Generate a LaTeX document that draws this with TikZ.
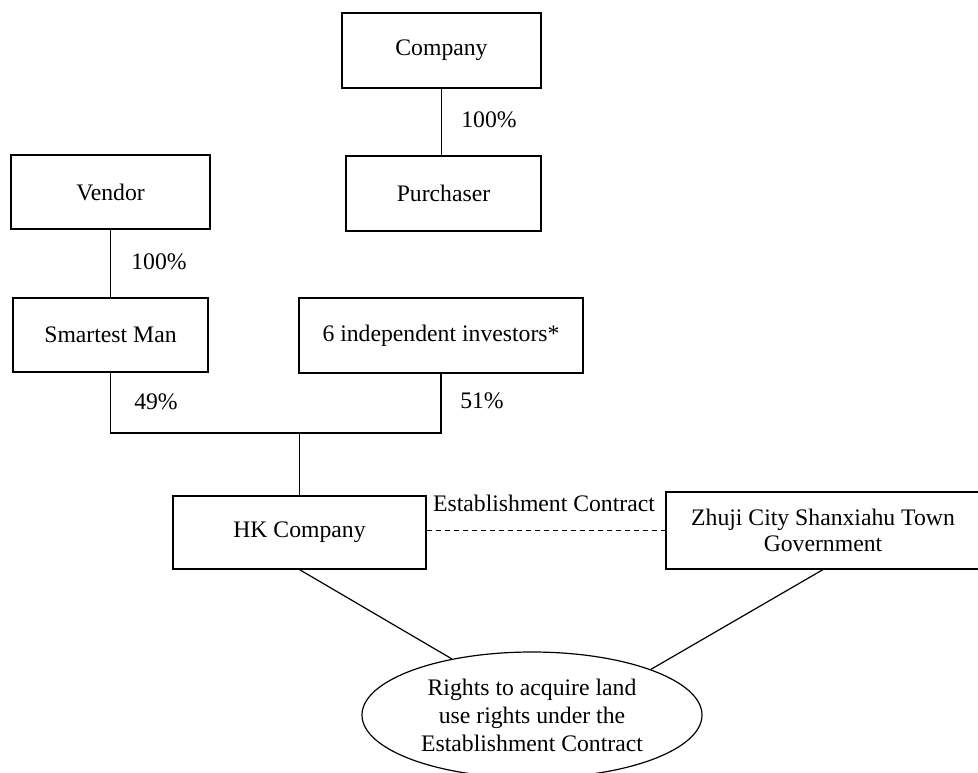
\documentclass[tikz,border=0pt]{standalone}
\usepackage{fontspec}
\setmainfont{Liberation Serif}
\usetikzlibrary{shapes.geometric}
\begin{document}
\begin{tikzpicture}[x=1pt,y=-1pt,line width=1.2pt,
  every node/.style={font=\fontsize{23.7}{28}\selectfont},
  box/.style={draw,rectangle,inner sep=0pt,align=center},
  lbl/.style={inner sep=0pt},
  conn/.style={line width=1.2pt},
  dashconn/.style={line width=1.2pt,dash pattern=on 5pt off 4pt}]
\useasboundingbox (0,0) rectangle (978,772);
\clip (0,0) rectangle (978,772);
% boxes
\node[box,minimum width=199pt,minimum height=75pt] (co) at (441.5,50.5) {Company};
\node[box,minimum width=195pt,minimum height=75pt] (pu) at (443.5,193.5) {Purchaser};
\node[box,minimum width=199pt,minimum height=74pt] (ve) at (110.5,192) {Vendor};
\node[box,minimum width=195pt,minimum height=74pt] (sm) at (110.5,335) {Smartest Man};
\node[box,minimum width=284pt,minimum height=75pt] (inv) at (441,335.5) {6 independent investors*};
\node[box,minimum width=253pt,minimum height=73pt] (hk) at (299.5,532.5) {HK Company};
\node[box,minimum width=314pt,minimum height=77pt] (zh) at (823,530.5) {Zhuji City Shanxiahu Town\\[-2pt]Government};
\node[draw,ellipse,inner sep=0pt,minimum width=340pt,minimum height=126pt,align=center] (el) at (532,715)
  {Rights to acquire land\\use rights under the\\Establishment Contract};
% labels
\node[lbl] (p1) at (489,120) {100\%};
\node[lbl] (p2) at (159,262) {100\%};
\node[lbl] (p3) at (156,402) {49\%};
\node[lbl] (p4) at (482,401) {51\%};
\node[lbl] (ec) at (544,503) {Establishment Contract};
% connectors
\coordinate (j) at (299.5,433);
\draw[conn] (co.south) -- (co.south |- pu.north);
\draw[conn] (ve.south) -- (ve.south |- sm.north);
\draw[conn] (sm.south) -- (sm.south |- j) -- (inv.south |- j) -- (inv.south);
\draw[conn] (j) -- (hk.north);
\draw[dashconn] (hk.east |- zh.west) -- (zh.west);
\draw[conn] (hk.south) -- (el.145);
\draw[conn] (zh.south) -- (el.21);
\end{tikzpicture}
\end{document}
